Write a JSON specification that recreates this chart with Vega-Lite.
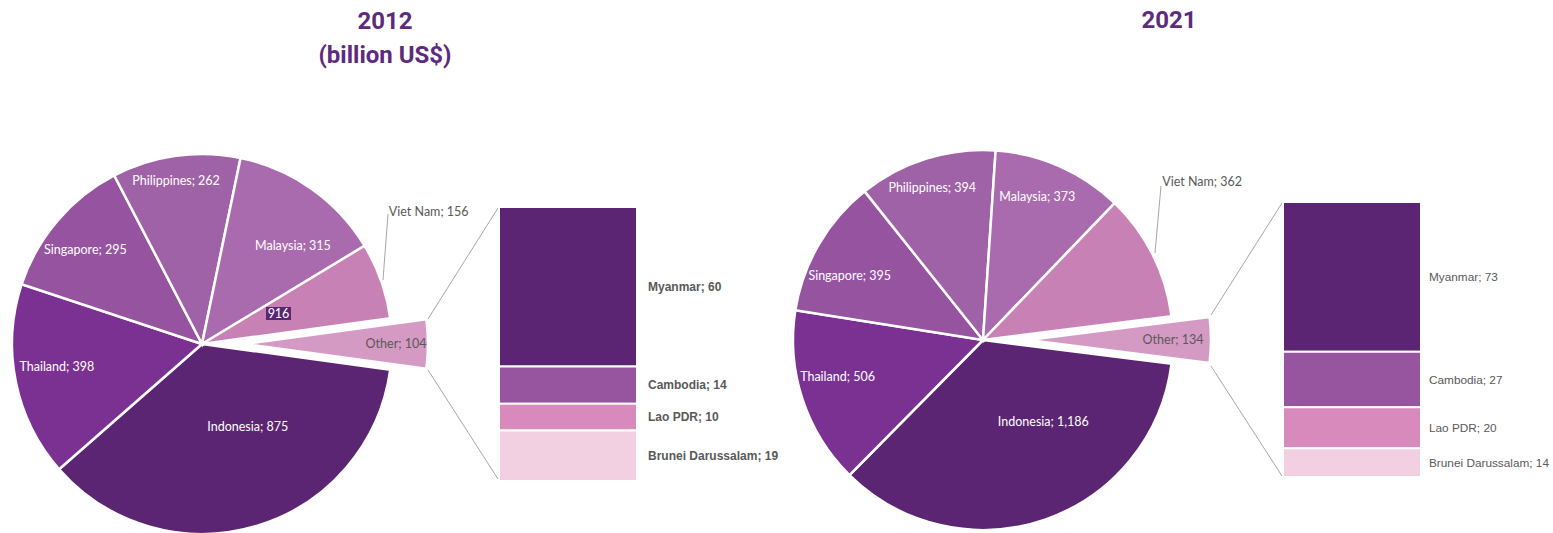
{
  "$schema": "https://vega.github.io/schema/vega-lite/v6.json",
  "width": 1553,
  "height": 533,
  "autosize": {"type": "none"},
  "padding": 0,
  "background": "white",
  "config": {"view": {"stroke": null}, "font": "Lato"},
  "datasets": {
    "pie": [
      {"year": "2012", "name": "Indonesia", "value": 875},
      {"year": "2012", "name": "Thailand", "value": 398},
      {"year": "2012", "name": "Singapore", "value": 295},
      {"year": "2012", "name": "Philippines", "value": 262},
      {"year": "2012", "name": "Malaysia", "value": 315},
      {"year": "2012", "name": "Viet Nam", "value": 156},
      {"year": "2012", "name": "Other", "value": 104},
      {"year": "2021", "name": "Indonesia", "value": 1186},
      {"year": "2021", "name": "Thailand", "value": 506},
      {"year": "2021", "name": "Singapore", "value": 395},
      {"year": "2021", "name": "Philippines", "value": 394},
      {"year": "2021", "name": "Malaysia", "value": 373},
      {"year": "2021", "name": "Viet Nam", "value": 362},
      {"year": "2021", "name": "Other", "value": 134}
    ],
    "bar": [
      {"year": "2012", "name": "Myanmar", "value": 60},
      {"year": "2012", "name": "Cambodia", "value": 14},
      {"year": "2012", "name": "Lao PDR", "value": 10},
      {"year": "2012", "name": "Brunei Darussalam", "value": 19},
      {"year": "2021", "name": "Myanmar", "value": 73},
      {"year": "2021", "name": "Cambodia", "value": 27},
      {"year": "2021", "name": "Lao PDR", "value": 20},
      {"year": "2021", "name": "Brunei Darussalam", "value": 14}
    ]
  },
  "resolve": {"scale": {"y": "independent", "theta": "independent"}},
  "layer": [
    {
      "resolve": {"scale": {"theta": "independent"}},
      "layer": [
        {
          "data": {"values": [{}]},
          "mark": {"type": "text", "fontSize": 24, "fontWeight": "bold", "font": "Roboto", "fill": "#5c2a7e"},
          "encoding": {
            "x": {"datum": 385, "type": "quantitative", "scale": {"domain": [0, 1553], "nice": false, "zero": false}, "axis": null},
            "y": {"datum": 22, "type": "quantitative", "scale": {"domain": [0, 533], "reverse": true, "nice": false, "zero": false}, "axis": null},
            "text": {"value": "2012"}
          }
        },
        {
          "data": {"values": [{}]},
          "mark": {"type": "text", "fontSize": 24, "fontWeight": "bold", "font": "Roboto", "fill": "#5c2a7e"},
          "encoding": {
            "x": {"datum": 385, "type": "quantitative", "scale": {"domain": [0, 1553], "nice": false, "zero": false}, "axis": null},
            "y": {"datum": 56, "type": "quantitative", "scale": {"domain": [0, 533], "reverse": true, "nice": false, "zero": false}, "axis": null},
            "text": {"value": "(billion US$)"}
          }
        },
        {
          "data": {"values": [{}]},
          "mark": {"type": "text", "fontSize": 24, "fontWeight": "bold", "font": "Roboto", "fill": "#5c2a7e"},
          "encoding": {
            "x": {"datum": 1169, "type": "quantitative", "scale": {"domain": [0, 1553], "nice": false, "zero": false}, "axis": null},
            "y": {"datum": 21, "type": "quantitative", "scale": {"domain": [0, 533], "reverse": true, "nice": false, "zero": false}, "axis": null},
            "text": {"value": "2021"}
          }
        },
        {
          "data": {"values": [{}]},
          "mark": {"type": "rule", "stroke": "#a6a6a6", "strokeWidth": 1},
          "encoding": {
            "x": {"datum": 428, "type": "quantitative", "scale": {"domain": [0, 1553], "nice": false, "zero": false}, "axis": null},
            "y": {"datum": 319, "type": "quantitative", "scale": {"domain": [0, 533], "reverse": true, "nice": false, "zero": false}, "axis": null},
            "x2": {"datum": 498},
            "y2": {"datum": 208}
          }
        },
        {
          "data": {"values": [{}]},
          "mark": {"type": "rule", "stroke": "#a6a6a6", "strokeWidth": 1},
          "encoding": {
            "x": {"datum": 428, "type": "quantitative", "scale": {"domain": [0, 1553], "nice": false, "zero": false}, "axis": null},
            "y": {"datum": 370, "type": "quantitative", "scale": {"domain": [0, 533], "reverse": true, "nice": false, "zero": false}, "axis": null},
            "x2": {"datum": 498},
            "y2": {"datum": 479}
          }
        },
        {
          "data": {"values": [{}]},
          "mark": {"type": "rule", "stroke": "#a6a6a6", "strokeWidth": 1},
          "encoding": {
            "x": {"datum": 1211, "type": "quantitative", "scale": {"domain": [0, 1553], "nice": false, "zero": false}, "axis": null},
            "y": {"datum": 315, "type": "quantitative", "scale": {"domain": [0, 533], "reverse": true, "nice": false, "zero": false}, "axis": null},
            "x2": {"datum": 1282},
            "y2": {"datum": 203}
          }
        },
        {
          "data": {"values": [{}]},
          "mark": {"type": "rule", "stroke": "#a6a6a6", "strokeWidth": 1},
          "encoding": {
            "x": {"datum": 1211, "type": "quantitative", "scale": {"domain": [0, 1553], "nice": false, "zero": false}, "axis": null},
            "y": {"datum": 366, "type": "quantitative", "scale": {"domain": [0, 533], "reverse": true, "nice": false, "zero": false}, "axis": null},
            "x2": {"datum": 1282},
            "y2": {"datum": 476}
          }
        },
        {
          "data": {"values": [{}]},
          "mark": {"type": "rule", "stroke": "#a6a6a6", "strokeWidth": 1},
          "encoding": {
            "x": {"datum": 383, "type": "quantitative", "scale": {"domain": [0, 1553], "nice": false, "zero": false}, "axis": null},
            "y": {"datum": 280, "type": "quantitative", "scale": {"domain": [0, 533], "reverse": true, "nice": false, "zero": false}, "axis": null},
            "x2": {"datum": 388},
            "y2": {"datum": 214}
          }
        },
        {
          "data": {"values": [{}]},
          "mark": {"type": "rule", "stroke": "#a6a6a6", "strokeWidth": 1},
          "encoding": {
            "x": {"datum": 1155, "type": "quantitative", "scale": {"domain": [0, 1553], "nice": false, "zero": false}, "axis": null},
            "y": {"datum": 253, "type": "quantitative", "scale": {"domain": [0, 533], "reverse": true, "nice": false, "zero": false}, "axis": null},
            "x2": {"datum": 1161},
            "y2": {"datum": 186}
          }
        },
        {
          "data": {"name": "pie"},
          "transform": [
            {"filter": "datum.year === '2012'"},
            {"window": [{"op": "row_number", "as": "idx"}]},
            {"calculate": "datum.name + '; ' + format(datum.value, ',')", "as": "label"}
          ],
          "encoding": {
            "y": {"datum": 344, "type": "quantitative", "scale": {"domain": [0, 533], "reverse": true, "nice": false, "zero": false}, "axis": null},
            "theta": {"field": "value", "type": "quantitative", "stack": "normalize", "scale": {"domain": [0, 1], "range": [1.70665, 7.98984]}},
            "order": {"field": "idx", "type": "quantitative"}
          },
          "layer": [
            {
              "mark": {"type": "arc", "outerRadius": 190, "stroke": "white", "strokeWidth": 2.5},
              "encoding": {
                "x": {"datum": 202, "type": "quantitative", "scale": {"domain": [0, 1553], "nice": false, "zero": false}, "axis": null},
                "color": {"field": "name", "type": "nominal", "legend": null, "scale": {"domain": ["Indonesia", "Thailand", "Singapore", "Philippines", "Malaysia", "Viet Nam", "Other", "Myanmar", "Cambodia", "Lao PDR", "Brunei Darussalam"], "range": ["#5b2573", "#7b3192", "#96539f", "#a062a6", "#a96bad", "#c881b5", "#d49ac3", "#5b2573", "#97559f", "#d98abd", "#f2d0e2"]}},
                "opacity": {"condition": {"test": "datum.name === 'Other'", "value": 0}, "value": 1}
              }
            },
            {
              "mark": {"type": "arc", "outerRadius": 183, "stroke": "white", "strokeWidth": 2.5},
              "encoding": {
                "x": {"datum": 245, "type": "quantitative", "scale": {"domain": [0, 1553], "nice": false, "zero": false}, "axis": null},
                "color": {"field": "name", "type": "nominal", "legend": null, "scale": {"domain": ["Indonesia", "Thailand", "Singapore", "Philippines", "Malaysia", "Viet Nam", "Other", "Myanmar", "Cambodia", "Lao PDR", "Brunei Darussalam"], "range": ["#5b2573", "#7b3192", "#96539f", "#a062a6", "#a96bad", "#c881b5", "#d49ac3", "#5b2573", "#97559f", "#d98abd", "#f2d0e2"]}},
                "opacity": {"condition": {"test": "datum.name === 'Other'", "value": 1}, "value": 0}
              }
            },
            {
              "mark": {"type": "text", "radius": 165, "thetaOffset": -0.02, "fill": "white", "fontSize": 12.5},
              "encoding": {
                "x": {"datum": 202, "type": "quantitative", "scale": {"domain": [0, 1553], "nice": false, "zero": false}, "axis": null},
                "detail": {"field": "name", "type": "nominal"},
                "text": {"condition": {"test": "datum.name === 'Philippines'", "field": "label", "type": "nominal"}, "value": ""}
              }
            },
            {
              "mark": {"type": "text", "radius": 150, "thetaOffset": -0.025, "fill": "white", "fontSize": 12.5},
              "encoding": {
                "x": {"datum": 202, "type": "quantitative", "scale": {"domain": [0, 1553], "nice": false, "zero": false}, "axis": null},
                "detail": {"field": "name", "type": "nominal"},
                "text": {"condition": {"test": "datum.name === 'Singapore'", "field": "label", "type": "nominal"}, "value": ""}
              }
            },
            {
              "mark": {"type": "text", "radius": 147, "thetaOffset": 0.042, "fill": "white", "fontSize": 12.5},
              "encoding": {
                "x": {"datum": 202, "type": "quantitative", "scale": {"domain": [0, 1553], "nice": false, "zero": false}, "axis": null},
                "detail": {"field": "name", "type": "nominal"},
                "text": {"condition": {"test": "datum.name === 'Thailand'", "field": "label", "type": "nominal"}, "value": ""}
              }
            },
            {
              "mark": {"type": "text", "radius": 134, "thetaOffset": 0.13, "fill": "white", "fontSize": 12.5},
              "encoding": {
                "x": {"datum": 202, "type": "quantitative", "scale": {"domain": [0, 1553], "nice": false, "zero": false}, "axis": null},
                "detail": {"field": "name", "type": "nominal"},
                "text": {"condition": {"test": "datum.name === 'Malaysia'", "field": "label", "type": "nominal"}, "value": ""}
              }
            },
            {
              "mark": {"type": "text", "radius": 95, "thetaOffset": -0.21, "fill": "white", "fontSize": 12.5},
              "encoding": {
                "x": {"datum": 202, "type": "quantitative", "scale": {"domain": [0, 1553], "nice": false, "zero": false}, "axis": null},
                "detail": {"field": "name", "type": "nominal"},
                "text": {"condition": {"test": "datum.name === 'Indonesia'", "field": "label", "type": "nominal"}, "value": ""}
              }
            },
            {
              "mark": {"type": "text", "radius": 229, "thetaOffset": -0.277, "align": "left", "fill": "#595959", "fontSize": 12.5},
              "encoding": {
                "x": {"datum": 202, "type": "quantitative", "scale": {"domain": [0, 1553], "nice": false, "zero": false}, "axis": null},
                "detail": {"field": "name", "type": "nominal"},
                "text": {"condition": {"test": "datum.name === 'Viet Nam'", "field": "label", "type": "nominal"}, "value": ""}
              }
            },
            {
              "mark": {"type": "text", "radius": 151, "fill": "#595959", "fontSize": 12.5},
              "encoding": {
                "x": {"datum": 245, "type": "quantitative", "scale": {"domain": [0, 1553], "nice": false, "zero": false}, "axis": null},
                "detail": {"field": "name", "type": "nominal"},
                "text": {"condition": {"test": "datum.name === 'Other'", "field": "label", "type": "nominal"}, "value": ""}
              }
            }
          ]
        },
        {
          "data": {"values": [{}]},
          "mark": {"type": "rect", "fill": "#5a2573"},
          "encoding": {
            "x": {"datum": 266, "type": "quantitative", "scale": {"domain": [0, 1553], "nice": false, "zero": false}, "axis": null},
            "y": {"datum": 307, "type": "quantitative", "scale": {"domain": [0, 533], "reverse": true, "nice": false, "zero": false}, "axis": null},
            "x2": {"datum": 291},
            "y2": {"datum": 320}
          }
        },
        {
          "data": {"values": [{}]},
          "mark": {"type": "text", "fill": "white", "fontSize": 12.5},
          "encoding": {
            "x": {"datum": 278.5, "type": "quantitative", "scale": {"domain": [0, 1553], "nice": false, "zero": false}, "axis": null},
            "y": {"datum": 313.5, "type": "quantitative", "scale": {"domain": [0, 533], "reverse": true, "nice": false, "zero": false}, "axis": null},
            "text": {"value": "916"}
          }
        },
        {
          "data": {"name": "pie"},
          "transform": [
            {"filter": "datum.year === '2021'"},
            {"window": [{"op": "row_number", "as": "idx"}]},
            {"calculate": "datum.name + '; ' + format(datum.value, ',')", "as": "label"}
          ],
          "encoding": {
            "y": {"datum": 340, "type": "quantitative", "scale": {"domain": [0, 533], "reverse": true, "nice": false, "zero": false}, "axis": null},
            "theta": {"field": "value", "type": "quantitative", "stack": "normalize", "scale": {"domain": [0, 1], "range": [1.69646, 7.97965]}},
            "order": {"field": "idx", "type": "quantitative"}
          },
          "layer": [
            {
              "mark": {"type": "arc", "outerRadius": 190, "stroke": "white", "strokeWidth": 2.5},
              "encoding": {
                "x": {"datum": 983, "type": "quantitative", "scale": {"domain": [0, 1553], "nice": false, "zero": false}, "axis": null},
                "color": {"field": "name", "type": "nominal", "legend": null, "scale": {"domain": ["Indonesia", "Thailand", "Singapore", "Philippines", "Malaysia", "Viet Nam", "Other", "Myanmar", "Cambodia", "Lao PDR", "Brunei Darussalam"], "range": ["#5b2573", "#7b3192", "#96539f", "#a062a6", "#a96bad", "#c881b5", "#d49ac3", "#5b2573", "#97559f", "#d98abd", "#f2d0e2"]}},
                "opacity": {"condition": {"test": "datum.name === 'Other'", "value": 0}, "value": 1}
              }
            },
            {
              "mark": {"type": "arc", "outerRadius": 183, "stroke": "white", "strokeWidth": 2.5},
              "encoding": {
                "x": {"datum": 1028, "type": "quantitative", "scale": {"domain": [0, 1553], "nice": false, "zero": false}, "axis": null},
                "color": {"field": "name", "type": "nominal", "legend": null, "scale": {"domain": ["Indonesia", "Thailand", "Singapore", "Philippines", "Malaysia", "Viet Nam", "Other", "Myanmar", "Cambodia", "Lao PDR", "Brunei Darussalam"], "range": ["#5b2573", "#7b3192", "#96539f", "#a062a6", "#a96bad", "#c881b5", "#d49ac3", "#5b2573", "#97559f", "#d98abd", "#f2d0e2"]}},
                "opacity": {"condition": {"test": "datum.name === 'Other'", "value": 1}, "value": 0}
              }
            },
            {
              "mark": {"type": "text", "radius": 160, "thetaOffset": -0.02, "fill": "white", "fontSize": 12.5},
              "encoding": {
                "x": {"datum": 983, "type": "quantitative", "scale": {"domain": [0, 1553], "nice": false, "zero": false}, "axis": null},
                "detail": {"field": "name", "type": "nominal"},
                "text": {"condition": {"test": "datum.name === 'Philippines'", "field": "label", "type": "nominal"}, "value": ""}
              }
            },
            {
              "mark": {"type": "text", "radius": 153, "thetaOffset": -0.054, "fill": "white", "fontSize": 12.5},
              "encoding": {
                "x": {"datum": 983, "type": "quantitative", "scale": {"domain": [0, 1553], "nice": false, "zero": false}, "axis": null},
                "detail": {"field": "name", "type": "nominal"},
                "text": {"condition": {"test": "datum.name === 'Malaysia'", "field": "label", "type": "nominal"}, "value": ""}
              }
            },
            {
              "mark": {"type": "text", "radius": 148, "thetaOffset": -0.078, "fill": "white", "fontSize": 12.5},
              "encoding": {
                "x": {"datum": 983, "type": "quantitative", "scale": {"domain": [0, 1553], "nice": false, "zero": false}, "axis": null},
                "detail": {"field": "name", "type": "nominal"},
                "text": {"condition": {"test": "datum.name === 'Singapore'", "field": "label", "type": "nominal"}, "value": ""}
              }
            },
            {
              "mark": {"type": "text", "radius": 150, "thetaOffset": 0.07, "fill": "white", "fontSize": 12.5},
              "encoding": {
                "x": {"datum": 983, "type": "quantitative", "scale": {"domain": [0, 1553], "nice": false, "zero": false}, "axis": null},
                "detail": {"field": "name", "type": "nominal"},
                "text": {"condition": {"test": "datum.name === 'Thailand'", "field": "label", "type": "nominal"}, "value": ""}
              }
            },
            {
              "mark": {"type": "text", "radius": 102, "thetaOffset": -0.3, "fill": "white", "fontSize": 12.5},
              "encoding": {
                "x": {"datum": 983, "type": "quantitative", "scale": {"domain": [0, 1553], "nice": false, "zero": false}, "axis": null},
                "detail": {"field": "name", "type": "nominal"},
                "text": {"condition": {"test": "datum.name === 'Indonesia'", "field": "label", "type": "nominal"}, "value": ""}
              }
            },
            {
              "mark": {"type": "text", "radius": 239, "thetaOffset": -0.258, "align": "left", "fill": "#595959", "fontSize": 12.5},
              "encoding": {
                "x": {"datum": 983, "type": "quantitative", "scale": {"domain": [0, 1553], "nice": false, "zero": false}, "axis": null},
                "detail": {"field": "name", "type": "nominal"},
                "text": {"condition": {"test": "datum.name === 'Viet Nam'", "field": "label", "type": "nominal"}, "value": ""}
              }
            },
            {
              "mark": {"type": "text", "radius": 145, "fill": "#595959", "fontSize": 12.5},
              "encoding": {
                "x": {"datum": 1028, "type": "quantitative", "scale": {"domain": [0, 1553], "nice": false, "zero": false}, "axis": null},
                "detail": {"field": "name", "type": "nominal"},
                "text": {"condition": {"test": "datum.name === 'Other'", "field": "label", "type": "nominal"}, "value": ""}
              }
            }
          ]
        }
      ]
    },
    {
      "data": {"name": "bar"},
      "transform": [
        {"filter": "datum.year === '2012'"},
        {"window": [{"op": "row_number", "as": "idx"}]},
        {"stack": "value", "groupby": ["year"], "sort": [{"field": "idx"}], "as": ["y0", "y1"]}
      ],
      "mark": {"type": "bar", "stroke": "white", "strokeWidth": 2},
      "encoding": {
        "x": {"datum": 499, "type": "quantitative", "scale": {"domain": [0, 1553], "nice": false, "zero": false}, "axis": null},
        "x2": {"datum": 637},
        "y": {"field": "y0", "type": "quantitative", "scale": {"domain": [0, 103], "range": [207, 481], "nice": false, "zero": false}, "axis": null},
        "y2": {"field": "y1"},
        "color": {"field": "name", "type": "nominal", "legend": null, "scale": {"domain": ["Indonesia", "Thailand", "Singapore", "Philippines", "Malaysia", "Viet Nam", "Other", "Myanmar", "Cambodia", "Lao PDR", "Brunei Darussalam"], "range": ["#5b2573", "#7b3192", "#96539f", "#a062a6", "#a96bad", "#c881b5", "#d49ac3", "#5b2573", "#97559f", "#d98abd", "#f2d0e2"]}}
      }
    },
    {
      "data": {"name": "bar"},
      "transform": [
        {"filter": "datum.year === '2012'"},
        {"window": [{"op": "row_number", "as": "idx"}]},
        {"calculate": "datum.name + '; ' + format(datum.value, ',')", "as": "label"}
      ],
      "mark": {"type": "text", "align": "left", "fill": "#595959", "fontSize": 12, "fontWeight": "bold", "font": "Liberation Sans"},
      "encoding": {
        "x": {"datum": 648, "type": "quantitative", "scale": {"domain": [0, 1553], "nice": false, "zero": false}, "axis": null},
        "y": {"field": "value", "type": "quantitative", "stack": "zero", "bandPosition": 0.5, "scale": {"domain": [0, 103], "range": [207, 481], "nice": false, "zero": false}, "axis": null},
        "order": {"field": "idx", "type": "quantitative"},
        "detail": {"field": "name", "type": "nominal"},
        "text": {"field": "label", "type": "nominal"}
      }
    },
    {
      "data": {"name": "bar"},
      "transform": [
        {"filter": "datum.year === '2021'"},
        {"window": [{"op": "row_number", "as": "idx"}]},
        {"stack": "value", "groupby": ["year"], "sort": [{"field": "idx"}], "as": ["y0", "y1"]}
      ],
      "mark": {"type": "bar", "stroke": "white", "strokeWidth": 2},
      "encoding": {
        "x": {"datum": 1283, "type": "quantitative", "scale": {"domain": [0, 1553], "nice": false, "zero": false}, "axis": null},
        "x2": {"datum": 1421},
        "y": {"field": "y0", "type": "quantitative", "scale": {"domain": [0, 134], "range": [202, 477], "nice": false, "zero": false}, "axis": null},
        "y2": {"field": "y1"},
        "color": {"field": "name", "type": "nominal", "legend": null, "scale": {"domain": ["Indonesia", "Thailand", "Singapore", "Philippines", "Malaysia", "Viet Nam", "Other", "Myanmar", "Cambodia", "Lao PDR", "Brunei Darussalam"], "range": ["#5b2573", "#7b3192", "#96539f", "#a062a6", "#a96bad", "#c881b5", "#d49ac3", "#5b2573", "#97559f", "#d98abd", "#f2d0e2"]}}
      }
    },
    {
      "data": {"name": "bar"},
      "transform": [
        {"filter": "datum.year === '2021'"},
        {"window": [{"op": "row_number", "as": "idx"}]},
        {"calculate": "datum.name + '; ' + format(datum.value, ',')", "as": "label"}
      ],
      "mark": {"type": "text", "align": "left", "fill": "#595959", "fontSize": 11.8, "font": "Liberation Sans"},
      "encoding": {
        "x": {"datum": 1429, "type": "quantitative", "scale": {"domain": [0, 1553], "nice": false, "zero": false}, "axis": null},
        "y": {"field": "value", "type": "quantitative", "stack": "zero", "bandPosition": 0.5, "scale": {"domain": [0, 134], "range": [202, 477], "nice": false, "zero": false}, "axis": null},
        "order": {"field": "idx", "type": "quantitative"},
        "detail": {"field": "name", "type": "nominal"},
        "text": {"field": "label", "type": "nominal"}
      }
    }
  ]
}
